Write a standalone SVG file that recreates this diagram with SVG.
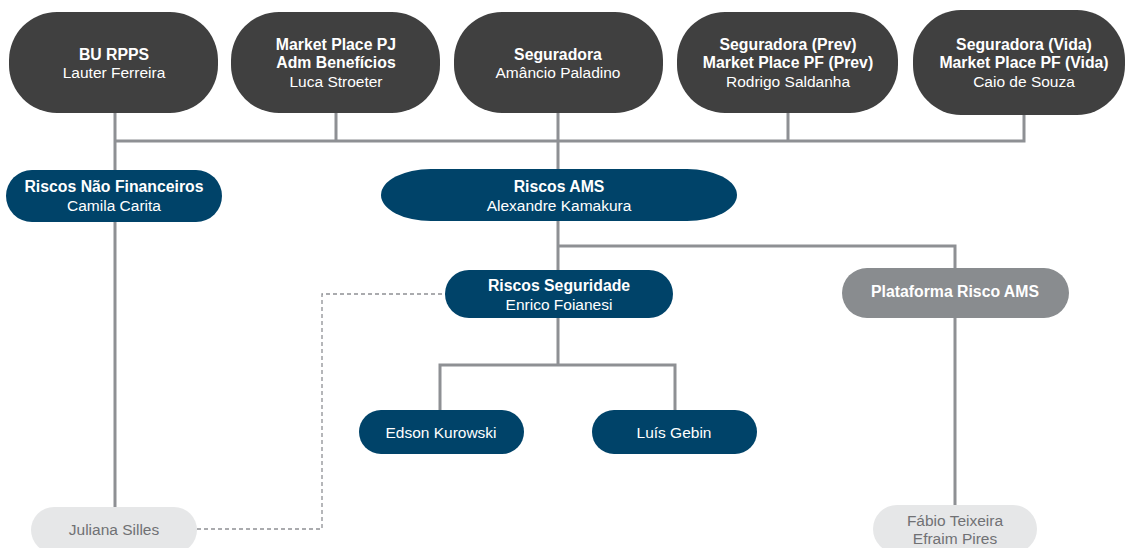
<svg xmlns="http://www.w3.org/2000/svg" width="1125" height="548" viewBox="0 0 1125 548">
<style>
.dark{fill:#404040}
.blue{fill:#004369}
.gray{fill:#898c8f}
.light{fill:#e6e7e8}
.t{font-family:"Liberation Sans",Arial,sans-serif;font-size:15.5px;text-anchor:middle}
.w{fill:#ffffff}
.b{font-weight:bold;font-size:15.8px}
.g{fill:#707174}
.ln{stroke:#8e9094;stroke-width:3;fill:none}
.dash{stroke:#8e9094;stroke-width:1.3;fill:none;stroke-dasharray:4 3}
</style>
<rect width="1125" height="548" fill="#ffffff"/>
<g id="connectors">
<path class="ln" d="M115 113V507M336 113V141M558 113V170M788 113V141M1024 115V141M113.5 141H1025.5"/>
<path class="ln" d="M558 220V270M558 246H955V505M558 318V365M440 365H675M440 363.5V410M675 363.5V410"/>
<path class="dash" d="M197 529H322V294H446"/>
</g>
<g id="n-bu-rpps">
<rect class="dark" x="9" y="12" width="209" height="101" rx="48" ry="48"/>
<text class="t w b" x="114" y="60">BU RPPS</text>
<text class="t w" x="114" y="78">Lauter Ferreira</text>
</g>
<g id="n-market-pj">
<rect class="dark" x="231" y="12" width="209" height="101" rx="48" ry="48"/>
<text class="t w b" x="336" y="50">Market Place PJ</text>
<text class="t w b" x="336" y="68">Adm Benefícios</text>
<text class="t w" x="336" y="87">Luca Stroeter</text>
</g>
<g id="n-seguradora">
<rect class="dark" x="454" y="12" width="209" height="101" rx="48" ry="48"/>
<text class="t w b" x="558" y="60">Seguradora</text>
<text class="t w" x="558" y="78">Amâncio Paladino</text>
</g>
<g id="n-seguradora-prev">
<rect class="dark" x="677" y="12" width="221" height="101" rx="48" ry="48"/>
<text class="t w b" x="788" y="50">Seguradora (Prev)</text>
<text class="t w b" x="788" y="68">Market Place PF (Prev)</text>
<text class="t w" x="788" y="87">Rodrigo Saldanha</text>
</g>
<g id="n-seguradora-vida">
<rect class="dark" x="913" y="10" width="212" height="105" rx="48" ry="50"/>
<text class="t w b" x="1024" y="50">Seguradora (Vida)</text>
<text class="t w b" x="1024" y="68">Market Place PF (Vida)</text>
<text class="t w" x="1024" y="87">Caio de Souza</text>
</g>
<g id="n-riscos-nao-financeiros">
<rect class="blue" x="6" y="170" width="216" height="52" rx="26" ry="26"/>
<text class="t w b" x="114" y="192">Riscos Não Financeiros</text>
<text class="t w" x="114" y="211">Camila Carita</text>
</g>
<g id="n-riscos-ams">
<rect class="blue" x="381" y="169" width="356" height="52" rx="50" ry="26"/>
<text class="t w b" x="559" y="192">Riscos AMS</text>
<text class="t w" x="559" y="211">Alexandre Kamakura</text>
</g>
<g id="n-riscos-seguridade">
<rect class="blue" x="445" y="270" width="228" height="48" rx="24" ry="24"/>
<text class="t w b" x="559" y="291">Riscos Seguridade</text>
<text class="t w" x="559" y="310">Enrico Foianesi</text>
</g>
<g id="n-plataforma">
<rect class="gray" x="842" y="268" width="227" height="50" rx="25" ry="25"/>
<text class="t w b" x="955" y="297">Plataforma Risco AMS</text>
</g>
<g id="n-edson">
<rect class="blue" x="359" y="410" width="165" height="44" rx="22" ry="22"/>
<text class="t w" x="441" y="438">Edson Kurowski</text>
</g>
<g id="n-luis">
<rect class="blue" x="592" y="410" width="165" height="44" rx="22" ry="22"/>
<text class="t w" x="674" y="438">Luís Gebin</text>
</g>
<g id="n-juliana">
<rect class="light" x="31" y="507" width="166" height="46" rx="23" ry="23"/>
<text class="t g" x="114" y="535">Juliana Silles</text>
</g>
<g id="n-fabio">
<rect class="light" x="873" y="505" width="164" height="48" rx="24" ry="24"/>
<text class="t g" x="955" y="526">Fábio Teixeira</text>
<text class="t g" x="955" y="544">Efraim Pires</text>
</g>
</svg>
